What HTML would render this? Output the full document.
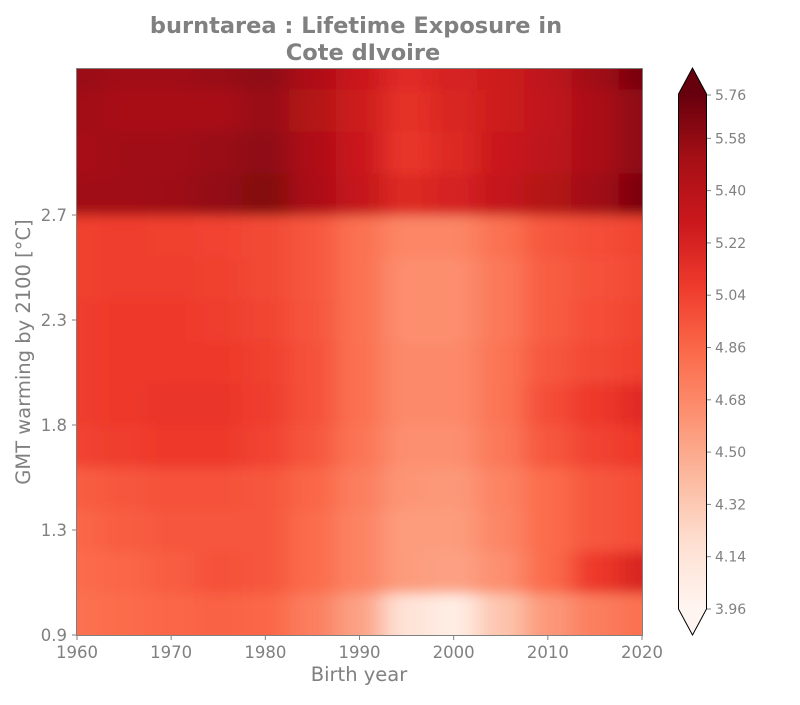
<!DOCTYPE html>
<html><head><meta charset="utf-8"><style>
body{margin:0;background:#fff;font-family:"Liberation Sans","DejaVu Sans",sans-serif}
</style></head><body>
<svg id="chart" width="800" height="700" xmlns="http://www.w3.org/2000/svg" font-family="DejaVu Sans, Liberation Sans, sans-serif">
<defs>
<clipPath id="pc"><rect x="77" y="69" width="565" height="566"/></clipPath>
<filter id="bl" x="-10%" y="-10%" width="120%" height="120%"><feGaussianBlur stdDeviation="13 6"/></filter>
<linearGradient id="cg" x1="0" y1="1" x2="0" y2="0">
<stop offset="0" stop-color="#fff5f0"/><stop offset="0.125" stop-color="#fee0d2"/><stop offset="0.25" stop-color="#fcbba1"/><stop offset="0.375" stop-color="#fc9272"/><stop offset="0.5" stop-color="#fb6a4a"/><stop offset="0.625" stop-color="#ef3b2c"/><stop offset="0.75" stop-color="#cb181d"/><stop offset="0.875" stop-color="#a50f15"/><stop offset="1" stop-color="#67000d"/>
</linearGradient>
</defs>
<text x="356" y="33" text-anchor="middle" font-size="22.5" font-weight="bold" fill="#808080">burntarea : Lifetime Exposure in</text>
<text x="363" y="60" text-anchor="middle" font-size="22.5" font-weight="bold" fill="#808080">Cote dIvoire</text>
<g id="cells" clip-path="url(#pc)"><g id="cellsInner" filter="url(#bl)"></g></g>
<rect x="76.5" y="68.5" width="566" height="567" fill="none" stroke="#808080"/>
<g id="axes"></g>
<text x="359" y="681" text-anchor="middle" font-size="19.5" fill="#808080">Birth year</text>
<text transform="translate(30,352) rotate(-90)" text-anchor="middle" font-size="19.5" fill="#808080">GMT warming by 2100 [°C]</text>
<g id="cbar"></g>
</svg>
<script>
const years=[1960,1965,1970,1975,1980,1985,1990,1995,2000,2005,2010,2015,2020];
const rowIdx=[1,3,5,7,9,11,13,15,17,19,21,23,25,27];
// values per row (bottom to top), per year column
const values=[
[4.82,4.85,4.88,4.90,4.88,4.75,4.55,4.15,4.05,4.35,4.60,4.75,4.82],
[4.85,4.88,4.92,4.98,4.95,4.85,4.72,4.58,4.55,4.65,4.85,5.10,5.22],
[4.88,4.92,4.95,4.95,4.95,4.85,4.72,4.58,4.58,4.70,4.85,4.95,5.00],
[4.92,4.95,4.98,4.98,4.95,4.88,4.75,4.62,4.60,4.72,4.85,4.95,5.00],
[5.05,5.08,5.10,5.10,5.05,4.95,4.80,4.65,4.65,4.78,4.95,5.05,5.10],
[5.08,5.10,5.12,5.12,5.08,4.98,4.82,4.68,4.68,4.80,5.00,5.10,5.18],
[5.08,5.10,5.10,5.10,5.06,4.98,4.82,4.68,4.68,4.80,4.95,5.02,5.06],
[5.08,5.10,5.10,5.08,5.04,4.96,4.82,4.66,4.66,4.78,4.92,5.00,5.04],
[5.06,5.08,5.08,5.06,5.02,4.95,4.82,4.66,4.66,4.78,4.92,4.98,5.02],
[5.06,5.08,5.06,5.05,5.02,4.95,4.82,4.70,4.70,4.82,4.95,5.00,5.04],
[5.55,5.55,5.56,5.60,5.66,5.50,5.35,5.20,5.25,5.35,5.45,5.55,5.68],
[5.52,5.55,5.55,5.58,5.62,5.48,5.32,5.12,5.20,5.32,5.40,5.50,5.62],
[5.55,5.52,5.52,5.52,5.58,5.45,5.30,5.15,5.22,5.30,5.38,5.50,5.62],
[5.58,5.55,5.55,5.58,5.62,5.48,5.32,5.18,5.25,5.30,5.40,5.55,5.70]];
const yTickIdx=[0,5,10,15,20];
const yTickLabels=["0.9","1.3","1.8","2.3","2.7"];
const xTicks=[1960,1970,1980,1990,2000,2010,2020];
const cbTicks=[3.96,4.14,4.32,4.50,4.68,4.86,5.04,5.22,5.40,5.58,5.76];
const vmin=3.96,vmax=5.76;
const stops=["#fff5f0","#fee0d2","#fcbba1","#fc9272","#fb6a4a","#ef3b2c","#cb181d","#a50f15","#67000d"];
const X=y=>77+(y-1960)/60*565;
const Y=i=>635-i*21;
const CB=v=>{const s=(v-vmin)/0.18; return s<=9 ? 609-s*52.3 : 609-9*52.3-(s-9)*43.3;};
function hex(h){return [1,3,5].map(i=>parseInt(h.substr(i,2),16));}
function color(v){let t=Math.max(0,Math.min(1,(v-vmin)/(vmax-vmin)))*(stops.length-1);let i=Math.min(stops.length-2,Math.floor(t));let f=t-i;let a=hex(stops[i]),b=hex(stops[i+1]);return "rgb("+a.map((c,k)=>Math.round(c+(b[k]-c)*f)).join(",")+")";}
const NS="http://www.w3.org/2000/svg";
function mk(tag,attrs,parent){const e=document.createElementNS(NS,tag);for(const k in attrs)e.setAttribute(k,attrs[k]);parent.appendChild(e);return e;}
const ci=document.getElementById('cellsInner');
values.forEach((row,r)=>{row.forEach((v,c)=>{
 let x0=X(years[c]-2.5),x1=X(years[c]+2.5);
 if(c===0)x0-=40; if(c===years.length-1)x1+=40;
 let y0=Y(rowIdx[r]+1),y1=Y(rowIdx[r]-1);
 if(r===0)y1+=30; if(r===values.length-1)y0-=30;
 const e=mk('rect',{x:x0,y:y0,width:x1-x0+0.5,height:y1-y0+0.5,fill:color(v)},ci);
 
 
});});
const ax=document.getElementById('axes');
yTickIdx.forEach((i,k)=>{
 mk('line',{x1:72,x2:77,y1:Y(i),y2:Y(i),stroke:'#808080'},ax);
 const t=mk('text',{x:67,y:Y(i)+6,'text-anchor':'end','font-size':16.5,fill:'#808080'},ax);t.textContent=yTickLabels[k];
 
 
});
xTicks.forEach(y=>{
 mk('line',{x1:X(y),x2:X(y),y1:635,y2:640,stroke:'#808080'},ax);
 const t=mk('text',{x:X(y),y:658,'text-anchor':'middle','font-size':16.5,fill:'#808080'},ax);t.textContent=y;
 
 
});
const cb=document.getElementById('cbar');
const bar=mk('rect',{x:678.5,y:94,width:28,height:515,fill:'url(#cg)'},cb);


const up=mk('path',{d:'M678.5 94 L692.5 68 L706.5 94 Z',fill:'#67000d'},cb);


const dn=mk('path',{d:'M678.5 609 L692.5 635 L706.5 609 Z',fill:'#fff5f0'},cb);


mk('path',{d:'M678.5 94 L692.5 68 L706.5 94 L706.5 609 L692.5 635 L678.5 609 Z',fill:'none',stroke:'#000','stroke-width':1},cb);
cbTicks.forEach(v=>{
 mk('line',{x1:707,x2:711,y1:CB(v),y2:CB(v),stroke:'#808080'},cb);
 const t=mk('text',{x:715,y:CB(v)+5,'font-size':14,fill:'#808080'},cb);t.textContent=v.toFixed(2);
 
 
});
</script>
</body></html>
